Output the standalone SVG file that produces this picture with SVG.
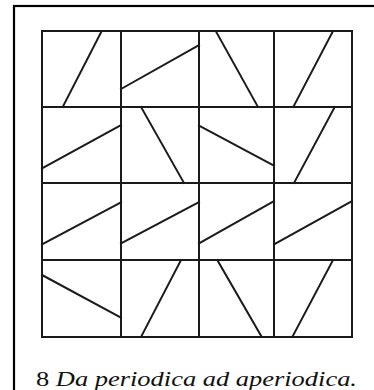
<svg xmlns="http://www.w3.org/2000/svg" width="374" height="390" viewBox="0 0 374 390">
<style>
.frame{fill:none;stroke:#000;stroke-width:2.2}
.g{fill:none;stroke:#1a1a1a;stroke-width:2;stroke-linecap:square}
</style>
<rect class="frame" x="14" y="6" width="400" height="420"/>
<g id="grid">
<rect class="g" x="42" y="31" width="310" height="306"/>
<line class="g" x1="121" y1="31" x2="121" y2="337"/>
<line class="g" x1="199" y1="31" x2="199" y2="337"/>
<line class="g" x1="274" y1="31" x2="274" y2="337"/>
<line class="g" x1="42" y1="107" x2="352" y2="107"/>
<line class="g" x1="42" y1="183" x2="352" y2="183"/>
<line class="g" x1="42" y1="260" x2="352" y2="260"/>
</g>
<g id="diagonals" class="g">
<line x1="101.7" y1="31" x2="62.7" y2="107"/>
<line x1="121" y1="89" x2="199" y2="45"/>
<line x1="215.7" y1="31" x2="258" y2="107"/>
<line x1="333" y1="31" x2="293.3" y2="107"/>
<line x1="42" y1="168.3" x2="121" y2="125"/>
<line x1="141" y1="107" x2="184" y2="183"/>
<line x1="199" y1="125.7" x2="274" y2="165.7"/>
<line x1="334.7" y1="107" x2="294" y2="183"/>
<line x1="42" y1="244.3" x2="121" y2="202.3"/>
<line x1="121" y1="243.3" x2="199" y2="202"/>
<line x1="199" y1="243.3" x2="274" y2="201"/>
<line x1="274" y1="244.3" x2="352" y2="201"/>
<line x1="42" y1="275" x2="121" y2="317.7"/>
<line x1="181" y1="260" x2="141" y2="337"/>
<line x1="217.3" y1="260" x2="261.7" y2="337"/>
<line x1="333" y1="260" x2="292.3" y2="337"/>
</g>
<text font-family="'Liberation Serif', 'Times New Roman', serif" font-size="21" fill="#111" x="36" y="386" textLength="321" lengthAdjust="spacingAndGlyphs">8 <tspan font-style="italic">Da periodica ad aperiodica.</tspan></text>
</svg>
